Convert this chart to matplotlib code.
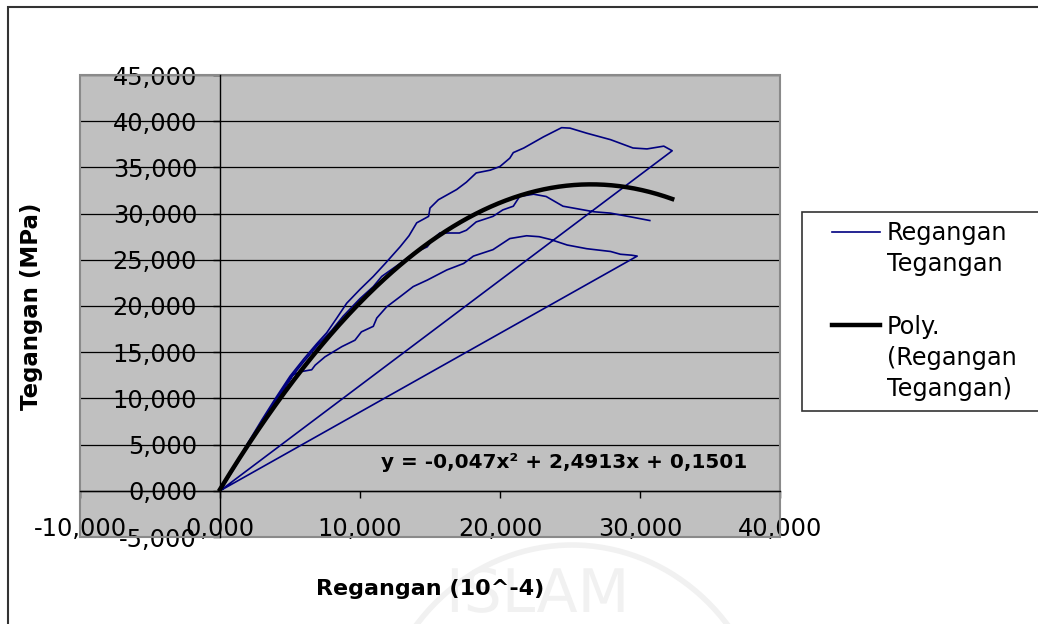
import numpy as np
import matplotlib
matplotlib.use("Agg")
import matplotlib.pyplot as plt
from matplotlib.lines import Line2D
from matplotlib.patches import Rectangle, Arc, PathPatch
from matplotlib.textpath import TextPath
from matplotlib.font_manager import FontProperties
from matplotlib.transforms import Affine2D
from matplotlib.ticker import FuncFormatter

# ---------------- data ----------------
# specimen C (lowest curve)
c_x = [0, 1.0, 2.0, 3.0, 4.0, 5.0, 5.2, 5.8, 6.55, 6.8, 7.5, 8.7, 9.64, 10.1, 10.95, 11.2,
       11.9, 12.86, 13.8, 14.8, 16.2, 17.4, 18.1, 19.5, 20.7, 21.9, 22.8, 23.6, 24.8, 26.2,
       27.9, 28.6, 29.4, 29.8]
c_y = [0, 2.4, 4.9, 7.3, 9.7, 12.0, 12.55, 12.9, 13.1, 13.6, 14.5, 15.6, 16.3, 17.2, 17.8, 18.7,
       19.9, 21.0, 22.1, 22.8, 23.9, 24.6, 25.4, 26.1, 27.3, 27.6, 27.5, 27.2, 26.6, 26.2,
       25.9, 25.6, 25.5, 25.4]
# specimen A (highest curve)
a_x = [0, 1.0, 2.0, 3.0, 4.0, 5.0, 6.0, 6.9, 7.62, 8.3, 9.05, 10.0, 10.95, 11.8, 12.86, 13.5,
       14.05, 14.9, 15.0, 15.6, 16.9, 17.6, 18.3, 19.3, 20.0, 20.7, 20.95, 21.7, 23.1, 24.4,
       25.0, 26.2, 27.9, 29.5, 30.5, 31.7, 32.3]
a_y = [0, 2.6, 5.2, 7.7, 10.1, 12.4, 14.3, 15.9, 17.1, 18.6, 20.3, 21.8, 23.2, 24.6, 26.4, 27.6,
       29.0, 29.7, 30.6, 31.5, 32.6, 33.4, 34.4, 34.7, 35.1, 36.0, 36.6, 37.1, 38.3, 39.3,
       39.25, 38.7, 38.0, 37.1, 37.0, 37.3, 36.8]
# specimen B (middle curve)
b_x = [0, 1.0, 2.0, 3.0, 4.0, 5.0, 6.0, 7.0, 8.0, 8.8, 10.0, 10.95, 11.55, 12.86, 13.8, 14.8,
       15.2, 15.7, 17.1, 17.6, 18.3, 19.5, 20.2, 20.95, 21.4, 22.4, 23.3, 24.5, 26.7, 27.9,
       29.5, 30.7]
b_y = [0, 2.5, 5.0, 7.4, 9.8, 12.1, 14.0, 15.8, 17.4, 18.9, 20.8, 22.1, 23.2, 24.6, 25.7, 26.4,
       27.2, 27.9, 27.9, 28.2, 29.1, 29.7, 30.4, 30.8, 31.85, 32.1, 31.85, 30.8, 30.2, 30.05,
       29.6, 29.25]

# polynomial trendline coefficients as shown on the chart
poly_coef = [-0.047, 2.4913, 0.1501]
poly_label = "y = -0,047x² + 2,4913x + 0,1501"

series_label = "Regangan Tegangan"
xlabel = "Regangan (10^-4)"
ylabel = "Tegangan (MPa)"
x_ticks = [-10, 0, 10, 20, 30, 40]
y_ticks = [-5, 0, 5, 10, 15, 20, 25, 30, 35, 40, 45]

# ---------------- figure ----------------
W, H = 1038, 624
fig = plt.figure(figsize=(W / 100, H / 100), dpi=100)
fig.patch.set_facecolor("white")

def fx(px):
    return px / W

def fy(py):
    return 1 - py / H

# outer chart border (continues beyond the cropped picture)
fig.patches.append(Rectangle((fx(8), -0.2), 1.5, fy(7) + 0.2, transform=fig.transFigure,
                             fill=False, edgecolor="#333333", lw=1.5, zorder=0))

# faint background watermark logo (a picture in the source, drawn as a shape)
wm_path = TextPath((0, 0), "ISLAM", size=60, prop=FontProperties(family="DejaVu Sans"))
wm_tr = Affine2D().translate(446, 624 - 612)  # display pixels from bottom-left
fig.patches.append(PathPatch(wm_path, transform=wm_tr, facecolor="#f1f1f1",
                             edgecolor="none", zorder=-1))
fig.patches.append(Arc((fx(572), fy(760)), fx(2 * 200), (2 * 215) / H, theta1=20, theta2=160,
                       transform=fig.transFigure, color="#f1f1f1", lw=4, zorder=-1))

ax = fig.add_axes([fx(80), 1 - 537 / H, 700 / W, 462 / H])
ax.set_facecolor("#C0C0C0")
ax.set_xlim(-10, 40)
ax.set_ylim(-5, 45)

# plot area border
ax.add_patch(Rectangle((0, 0), 1, 1, transform=ax.transAxes, fill=False,
                       edgecolor="#8a8a8a", lw=1.5, zorder=5, clip_on=False))

# blue series: all specimens as one connected series
sx = c_x + a_x + b_x
sy = c_y + a_y + b_y
blue, = ax.plot(sx, sy, color="#000080", lw=1.2, zorder=3, label=series_label)

px = np.linspace(min(sx), max(sx), 300)
black, = ax.plot(px, np.polyval(poly_coef, px), color="black", lw=3.2, zorder=4,
                 label="Poly. (Regangan Tegangan)")

ax.text(24.6, 3.1, poly_label, ha="center", va="center", fontsize=14.4,
        fontweight="bold", zorder=6)

# axes through origin
for s in ["top", "right"]:
    ax.spines[s].set_visible(False)
ax.spines["left"].set_position(("data", 0))
ax.spines["bottom"].set_position(("data", 0))
ax.spines["left"].set_linewidth(1.0)
ax.spines["bottom"].set_linewidth(1.0)
ax.spines["left"].set_zorder(5)
ax.spines["bottom"].set_zorder(5)

fmt = FuncFormatter(lambda v, p: f"{(0.0 if abs(v) < 1e-9 else v):.3f}".replace(".", ","))
ax.set_xticks(x_ticks)
ax.set_yticks(y_ticks)
ax.xaxis.set_major_formatter(fmt)
ax.yaxis.set_major_formatter(fmt)
ax.tick_params(axis="y", direction="out", length=5, width=1, pad=11.5, labelsize=17.3)
ax.tick_params(axis="x", direction="out", length=5, width=1, pad=14, labelsize=17.3)

ax.yaxis.grid(True, color="black", lw=0.9)
ax.xaxis.grid(False)
ax.set_axisbelow(True)

ax.set_xlabel(xlabel, fontsize=16, fontweight="bold")
ax.xaxis.set_label_coords(0.5, (H - 595 - 87) / 462)
ax.xaxis.label.set_va("baseline")
ax.set_ylabel(ylabel, fontsize=16.5, fontweight="bold")
ax.yaxis.set_label_coords((32 - 80) / 700, 0.5)
ax.yaxis.label.set_va("center")

# legend box (extends past the right edge of the picture)
fig.patches.append(Rectangle((fx(802), fy(411)), 0.5, (411 - 212) / H, transform=fig.transFigure,
                             facecolor="white", edgecolor="#333333", lw=1.2, zorder=1))
blank = Line2D([], [], linestyle="none")
leg = fig.legend([blue, blank, blank, black, blank, blank],
                 ["Regangan", "Tegangan", " ", "Poly.", "(Regangan", "Tegangan)"],
                 loc="upper left", bbox_to_anchor=(fx(832), fy(221)), frameon=False,
                 borderpad=0, borderaxespad=0, handlelength=2.0, handletextpad=0.29,
                 labelspacing=0.30, fontsize=17.3)
leg.set_zorder(2)

fig.savefig("out.png", dpi=100)
